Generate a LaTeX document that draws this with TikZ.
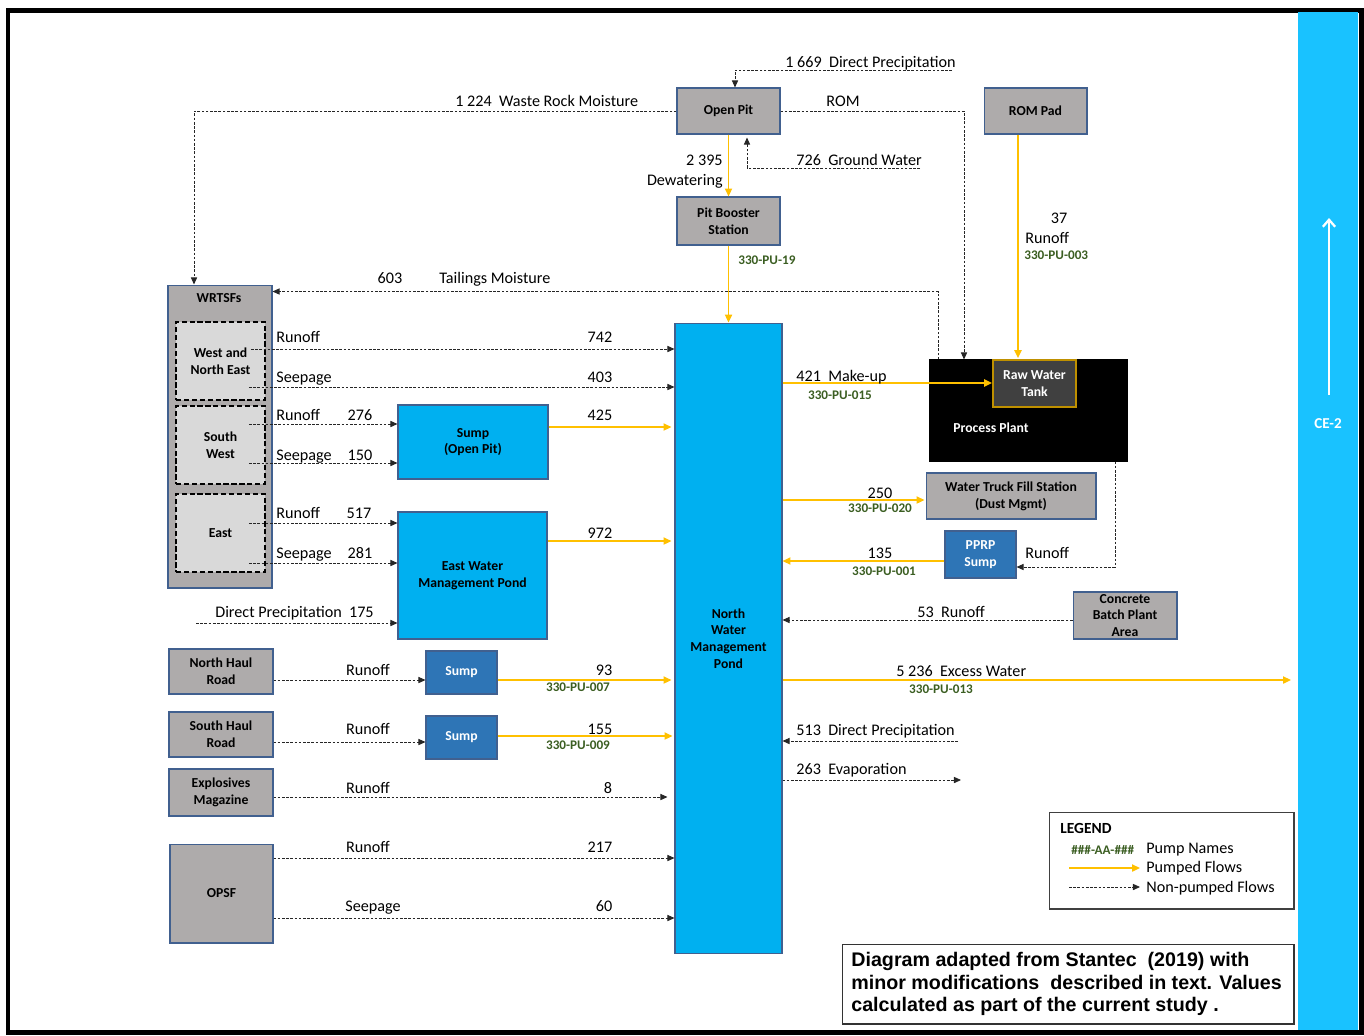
\documentclass[tikz,border=0pt]{standalone}
\usepackage{fontspec}
\setmainfont{Carlito}
\newfontfamily\notefont{Liberation Sans}
\usetikzlibrary{arrows.meta,calc}

\definecolor{boxgray}{HTML}{AEABAB}
\definecolor{boxedge}{HTML}{41608F}
\definecolor{pondblue}{HTML}{00B0F0}
\definecolor{sumpblue}{HTML}{2E75B6}
\definecolor{pumpyellow}{HTML}{FFC000}
\definecolor{pumpgreen}{HTML}{3B5E22}
\definecolor{zonegray}{HTML}{D9D9D9}
\definecolor{barblue}{HTML}{19C2FF}
\definecolor{tankgray}{HTML}{404040}
\definecolor{tankedge}{HTML}{BF9000}

\tikzstyle{every node} = [
		inner sep = 0pt,
		align = center
	]
\tikzstyle{area} = [
		rectangle,
		draw = boxedge,
		line width = .6pt,
		fill = boxgray,
		font = \bfseries\fontsize{7.8}{9.5}\selectfont
	]
\tikzstyle{pond} = [
		area,
		fill = pondblue
	]
\tikzstyle{sump} = [
		area,
		fill = sumpblue,
		text = white
	]
\tikzstyle{zone} = [
		rectangle,
		draw = black,
		line width = 1pt,
		dash pattern = on 3pt off 1.5pt,
		fill = zonegray,
		font = \bfseries\fontsize{7.8}{9.5}\selectfont
	]
\tikzstyle{lbl} = [
		anchor = base,
		font = \fontsize{9.2}{11}\selectfont
	]
\tikzstyle{pump} = [
		anchor = base,
		text = pumpgreen,
		font = \bfseries\fontsize{7.5}{9}\selectfont
	]
\tikzstyle{np} = [
		draw = black!85,
		line width = .5pt,
		dash pattern = on 1.5pt off .9pt,
		-{Triangle[length = 4pt, width = 3.5pt]}
	]
\tikzstyle{pf} = [
		draw = pumpyellow,
		line width = 1pt,
		-{Triangle[length = 4.5pt, width = 4pt]}
	]

\begin{document}
\begin{tikzpicture}[x = .02cm, y = -.02cm]
	\useasboundingbox (0,0) rectangle (1364,1035);

	%------------------------------Frame------------------------------
	\draw [line width = .1cm] (8,10) rectangle (1361,1032);
	\node [fill = barblue, minimum width = 1.2cm, minimum height = 20.36cm] (ce2) at (1328,521) {};
	\draw [white, line width = 1.3pt, -{Straight Barb[length = 4pt, width = 7pt]}] ($(ce2)+(1,-126)$) -- ($(ce2)+(1,-303)$);
	\node [text = white, font = \bfseries\fontsize{8.6}{10}\selectfont] (ce2txt) at (1328,424) {CE-2};

	%------------------------------Boxes------------------------------
	\node [area, minimum width = 2.06cm, minimum height = .92cm] (openpit) at (728.5,111) {Open Pit};
	\node [area, minimum width = 2.06cm, minimum height = .92cm] (rompad) at (1035.5,111) {ROM Pad};
	\node [area, minimum width = 2.06cm, minimum height = .96cm] (booster) at (728.5,221) {Pit Booster\\Station};

	\node [area, minimum width = 2.08cm, minimum height = 6.06cm] (wrtsf) at (220,436.5) {};
	\node [area, draw = none, fill = none] (wrtsftxt) at (219,298) {WRTSFs};
	\node [zone, minimum width = 1.78cm, minimum height = 1.56cm] (wne) at (220.5,361) {West and\\North East};
	\node [zone, minimum width = 1.78cm, minimum height = 1.56cm] (sw) at (220.5,445) {South\\West};
	\node [zone, minimum width = 1.78cm, minimum height = 1.56cm] (east) at (220.5,533) {East};

	\node [pond, minimum width = 3cm, minimum height = 1.48cm] (sumpop) at (473,442) {Sump\\(Open Pit)};
	\node [pond, minimum width = 2.98cm, minimum height = 2.54cm] (ewmp) at (472.5,575.5) {East Water\\Management Pond};
	\node [pond, minimum width = 2.14cm, minimum height = 12.62cm] (nwmp) at (728.5,638.5) {North\\Water\\Management\\Pond};

	\node [area, fill = black, draw = black, minimum width = 3.96cm, minimum height = 2.02cm] (plant) at (1028,410.5) {};
	\node [area, draw = none, fill = none, text = white] (planttxt) at (991,428) {Process Plant};
	\node [area, fill = tankgray, draw = tankedge, line width = 1pt, text = white, minimum width = 1.66cm, minimum height = .94cm] (tank) at (1034.5,383.5) {Raw Water\\Tank};
	\node [area, minimum width = 3.4cm, minimum height = .92cm] (truck) at (1011,496) {Water Truck Fill Station\\(Dust Mgmt)};
	\node [sump, minimum width = 1.42cm, minimum height = .94cm] (pprp) at (980.5,554.5) {PPRP\\Sump};
	\node [area, minimum width = 2.08cm, minimum height = .94cm] (batch) at (1125,615.5) {Concrete\\Batch Plant\\Area};

	\node [area, minimum width = 2.08cm, minimum height = .9cm] (nhaul) at (221,671.5) {North Haul\\Road};
	\node [sump, minimum width = 1.42cm, minimum height = .86cm] (sumpn) at (461.5,672.5) {Sump};
	\node [area, minimum width = 2.08cm, minimum height = .9cm] (shaul) at (221,734.5) {South Haul\\Road};
	\node [sump, minimum width = 1.42cm, minimum height = .86cm] (sumps) at (461.5,737.5) {Sump};
	\node [area, minimum width = 2.08cm, minimum height = .94cm] (explo) at (221,792.5) {Explosives\\Magazine};
	\node [area, minimum width = 2.06cm, minimum height = 1.98cm] (opsf) at (221.5,893.5) {OPSF};

	%------------------------------Flows------------------------------
	\coordinate (pitprecip) at (952,70);
	\coordinate (groundw) at (920,168);
	\draw [np] (pitprecip) -| ($(openpit.north)+(6.5,0)$);
	\draw [np] (openpit.west) -| ($(wrtsf.north)+(-26,0)$);
	\draw [np] (openpit.east) -| ($(plant.north)+(-64,0)$);
	\draw [pf] (openpit.south) -- (booster.north);
	\draw [np] (groundw) -| ($(openpit.south)+(18.5,3)$);
	\draw [pf] (booster.south) -- (nwmp.north);
	\draw [pf] ($(rompad.south)+(-17.5,0)$) -- ($(tank.north -| rompad.south)+(-17.5,-1)$);
	\draw [np] ($(plant.north)+(-90,0)$) |- ($(wrtsf.north east)+(0,7)$);

	\draw [np] ($(wne.east)+(-15,-12)$) -- ($(nwmp.west |- wne.east)+(0,-12)$);
	\draw [np] ($(wne.east)+(-17,26)$) -- ($(nwmp.west |- wne.east)+(0,26)$);
	\draw [np] ($(sw.east)+(-17,-21)$) -- ($(sumpop.west |- sw.east)+(0,-21)$);
	\draw [np] ($(sw.east)+(-17,18)$) -- ($(sumpop.west |- sw.east)+(0,18)$);
	\draw [pf] ($(sumpop.east)+(0,-15)$) -- ($(nwmp.west |- sumpop.east)+(-3,-15)$);
	\draw [np] ($(east.east)+(-17,-10)$) -- ($(ewmp.west |- east.east)+(0,-10)$);
	\draw [np] ($(east.east)+(-17,30)$) -- ($(ewmp.west |- east.east)+(0,30)$);
	\draw [pf] ($(ewmp.east)+(0,-34.5)$) -- ($(nwmp.west |- ewmp.east)+(-3,-34.5)$);
	\coordinate (ewmpprecip) at (196,623);
	\draw [np] (ewmpprecip) -- (ewmpprecip -| ewmp.west);

	\draw [np] ($(nhaul.east)+(0,8.5)$) -- ($(sumpn.west |- nhaul.east)+(0,8.5)$);
	\draw [pf] ($(sumpn.east)+(0,7.5)$) -- ($(nwmp.west |- sumpn.east)+(-3,7.5)$);
	\draw [np] ($(shaul.east)+(0,7.5)$) -- ($(sumps.west |- shaul.east)+(0,7.5)$);
	\draw [pf] ($(sumps.east)+(0,-1.5)$) -- ($(nwmp.west |- sumps.east)+(-2,-1.5)$);
	\draw [np] ($(explo.east)+(0,4.5)$) -- ($(nwmp.west |- explo.east)+(-7,4.5)$);
	\draw [np] ($(opsf.east)+(0,-35.5)$) -- ($(nwmp.west |- opsf.east)+(0,-35.5)$);
	\draw [np] ($(opsf.east)+(0,24.5)$) -- ($(nwmp.west |- opsf.east)+(0,24.5)$);

	\draw [pf] ($(tank.west -| nwmp.east)+(0,-.5)$) -- ($(tank.west)+(0,-.5)$);
	\draw [pf] ($(truck.west -| nwmp.east)+(0,4)$) -- ($(truck.west)+(-1,4)$);
	\draw [pf] ($(pprp.west)+(0,6.5)$) -- ($(pprp.west -| nwmp.east)+(0,6.5)$);
	\draw [np] ($(plant.south)+(87,0)$) |- ($(pprp.east)+(0,12.5)$);
	\draw [np] ($(batch.west)+(0,4.5)$) -- ($(batch.west -| nwmp.east)+(0,4.5)$);
	\coordinate (excess) at (1291,680);
	\coordinate (nwmpprecip) at (958,741);
	\coordinate (evap) at (961,780);
	\draw [pf] (excess -| nwmp.east) -- (excess);
	\draw [np] (nwmpprecip) -- (nwmpprecip -| nwmp.east);
	\draw [np] (evap -| nwmp.east) -- (evap);

	%------------------------------Labels------------------------------
	\node [lbl, anchor = base west] (l1669) at (785,67) {1 669\ \ Direct Precipitation};
	\node [lbl, anchor = base west] (l1224) at (455,106) {1 224\ \ Waste Rock Moisture};
	\node [lbl] (lrom) at (843,106) {ROM};
	\node [lbl, anchor = base east] (l2395) at (723,165) {2 395};
	\node [lbl, anchor = base east] (ldewater) at (723,185) {Dewatering};
	\node [lbl, anchor = base west] (l726) at (796,165) {726\ \ Ground Water};
	\node [pump, anchor = base west] (pu19) at (738,264) {330-PU-19};
	\node [lbl] (l37) at (1059,223) {37};
	\node [lbl, anchor = base west] (lrompad) at (1025,243) {Runoff};
	\node [pump, anchor = base west] (pu003) at (1024,259) {330-PU-003};
	\node [lbl] (l603) at (390,283) {603};
	\node [lbl, anchor = base west] (ltailings) at (439,283) {Tailings Moisture};

	\node [lbl, anchor = base west] (lwner) at (276,342) {Runoff};
	\node [lbl] (l742) at (600,342) {742};
	\node [lbl, anchor = base west] (lwnes) at (276,382) {Seepage};
	\node [lbl] (l403) at (600,382) {403};
	\node [lbl, anchor = base west] (lswr) at (276,420) {Runoff};
	\node [lbl] (l276) at (360,420) {276};
	\node [lbl] (l425) at (600,420) {425};
	\node [lbl, anchor = base west] (lsws) at (276,460) {Seepage};
	\node [lbl] (l150) at (360,460) {150};
	\node [lbl, anchor = base west] (leastr) at (276,518) {Runoff};
	\node [lbl] (l517) at (359,518) {517};
	\node [lbl] (l972) at (600,538) {972};
	\node [lbl, anchor = base west] (leasts) at (276,558) {Seepage};
	\node [lbl] (l281) at (360,558) {281};
	\node [lbl, anchor = base west] (l175) at (215,617) {Direct Precipitation\ \ 175};

	\node [lbl] (lnhaul) at (368,675) {Runoff};
	\node [lbl] (l93) at (604,675) {93};
	\node [pump] (pu007) at (578,691) {330-PU-007};
	\node [lbl] (lshaul) at (368,734) {Runoff};
	\node [lbl] (l155) at (600,734) {155};
	\node [pump] (pu009) at (578,749) {330-PU-009};
	\node [lbl] (lexplo) at (368,793) {Runoff};
	\node [lbl] (l8) at (608,793) {8};
	\node [lbl] (lopsfr) at (368,852) {Runoff};
	\node [lbl] (l217) at (600,852) {217};
	\node [lbl] (lopsfs) at (373,911) {Seepage};
	\node [lbl] (l60) at (604,911) {60};

	\node [lbl, anchor = base west] (l421) at (796,381) {421\ \ Make-up};
	\node [pump] (pu015) at (840,399) {330-PU-015};
	\node [lbl] (l250) at (880,498) {250};
	\node [pump] (pu020) at (880,512) {330-PU-020};
	\node [lbl] (l135) at (880,558) {135};
	\node [pump] (pu001) at (884,575) {330-PU-001};
	\node [lbl, anchor = base west] (lplantr) at (1025,558) {Runoff};
	\node [lbl, anchor = base west] (l53) at (917,617) {53\ \ Runoff};
	\node [lbl, anchor = base west] (l5236) at (896,676) {5 236\ \ Excess Water};
	\node [pump] (pu013) at (941,693) {330-PU-013};
	\node [lbl, anchor = base west] (l513) at (796,735) {513\ \ Direct Precipitation};
	\node [lbl, anchor = base west] (l263) at (796,774) {263\ \ Evaporation};

	%------------------------------Legend------------------------------
	\node [draw = black!75, line width = .6pt, minimum width = 4.9cm, minimum height = 1.94cm] (legend) at (1171.5,860.5) {};
	\node [anchor = base west, font = \bfseries\fontsize{8.8}{10}\selectfont] (legendtxt) at (1060,833) {LEGEND};
	\node [pump, anchor = base west] (legpump) at (1071,854) {\#\#\#-AA-\#\#\#};
	\node [lbl, anchor = base west] (legnames) at (1146,853) {Pump Names};
	\node [lbl, anchor = base west] (legpf) at (1146,872) {Pumped Flows};
	\node [lbl, anchor = base west] (legnp) at (1146,892) {Non-pumped Flows};
	\coordinate (legpfs) at (1069,868);
	\coordinate (legnps) at (1069,887);
	\draw [pf] (legpfs) -- ++(71,0);
	\draw [np] (legnps) -- ++(71,0);

	\node [draw = black!80, line width = .6pt, minimum width = 9.04cm, minimum height = 1.6cm] (note) at (1068,984) {};
	\node [anchor = west, align = left, font = \notefont\bfseries\fontsize{11.2}{13}\selectfont] (notetxt) at (851,984) {Diagram adapted from Stantec\ \ (2019) with\\minor modifications\ \ described in text. Values\\calculated as part of the current study .};

\end{tikzpicture}
\end{document}
